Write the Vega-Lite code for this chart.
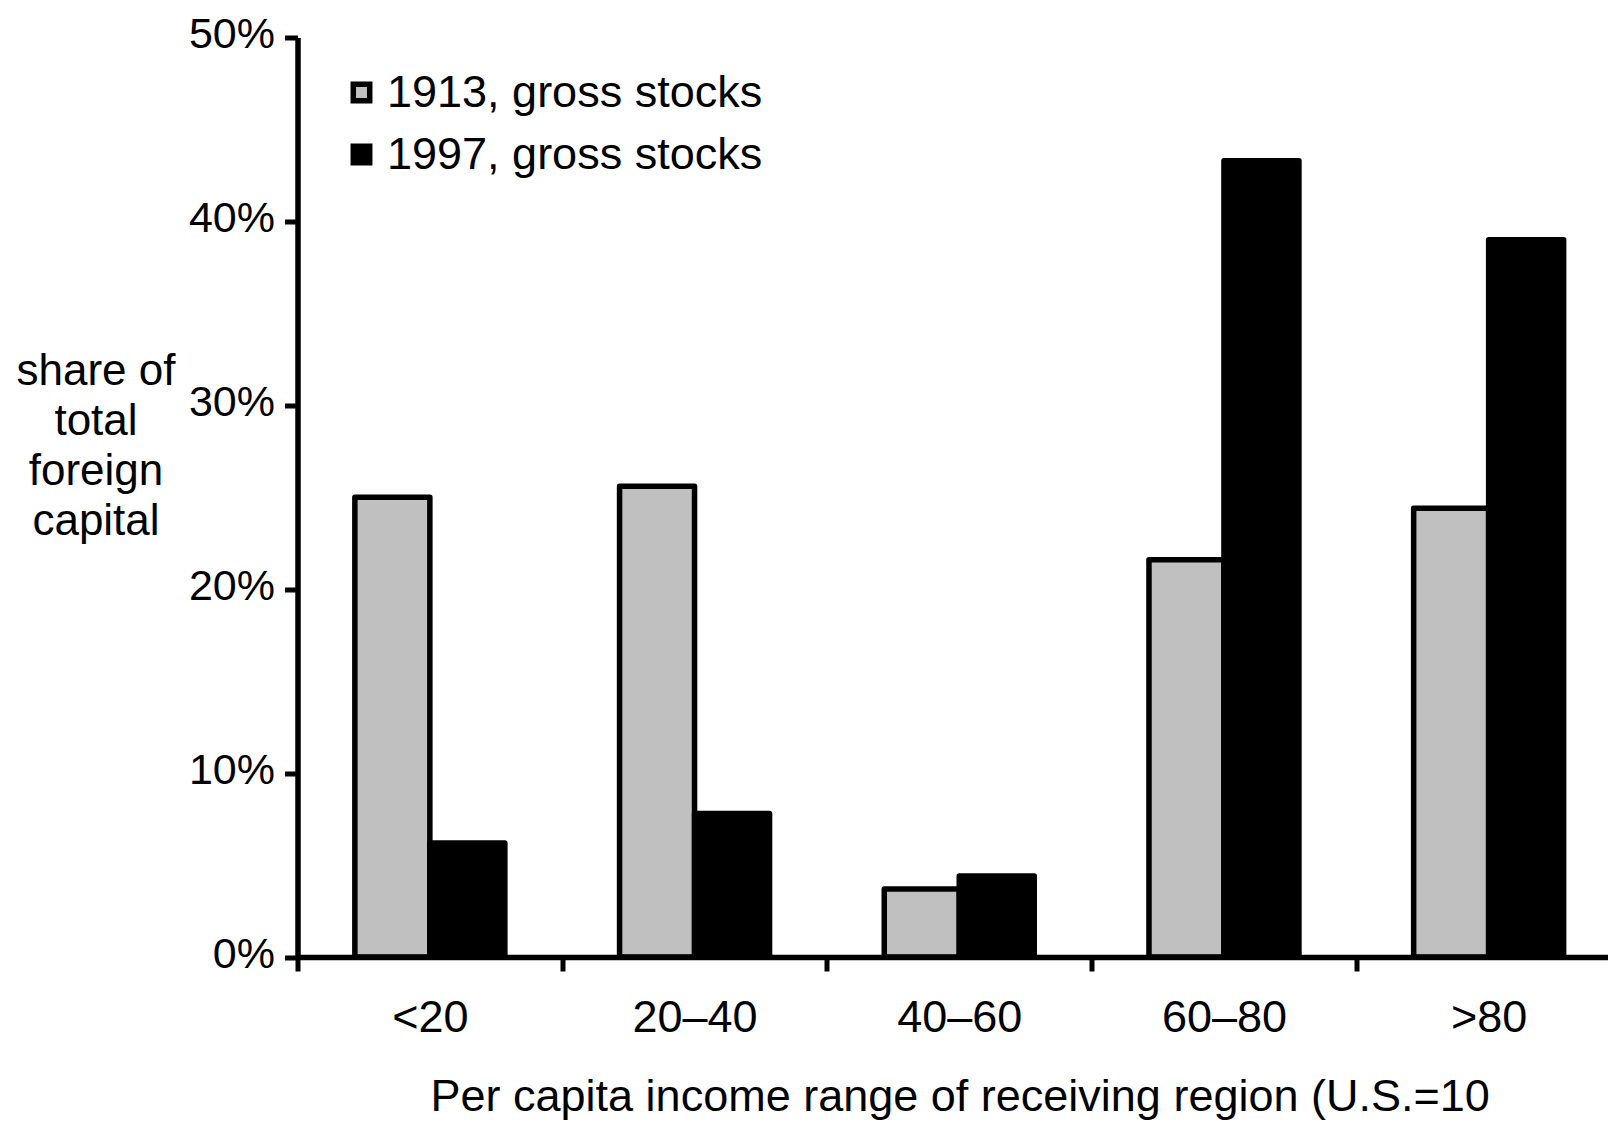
{
  "$schema": "https://vega.github.io/schema/vega-lite/v6.json",
  "width": 1310.5,
  "height": 919.5,
  "autosize": "none",
  "padding": {"left": 297.5, "top": 37.5, "right": 0, "bottom": 164},
  "background": "white",
  "config": {"view": {"stroke": null}, "font": "Liberation Sans"},
  "data": {"values": [
    {"range": "<20", "series": "1913, gross stocks", "share": 0.250},
    {"range": "20–40", "series": "1913, gross stocks", "share": 0.256},
    {"range": "40–60", "series": "1913, gross stocks", "share": 0.037},
    {"range": "60–80", "series": "1913, gross stocks", "share": 0.216},
    {"range": ">80", "series": "1913, gross stocks", "share": 0.244},
    {"range": "<20", "series": "1997, gross stocks", "share": 0.062},
    {"range": "20–40", "series": "1997, gross stocks", "share": 0.078},
    {"range": "40–60", "series": "1997, gross stocks", "share": 0.044},
    {"range": "60–80", "series": "1997, gross stocks", "share": 0.433},
    {"range": ">80", "series": "1997, gross stocks", "share": 0.390}
  ]},
  "mark": {"type": "bar", "stroke": "black", "strokeWidth": 5.5, "strokeJoin": "round"},
  "encoding": {
    "x": {
      "field": "range", "type": "nominal",
      "sort": ["<20", "20–40", "40–60", "60–80", ">80"],
      "scale": {"range": [0, 1323.5], "paddingInner": 0, "paddingOuter": 0},
      "axis": {
        "title": "Per capita income range of receiving region (U.S.=10",
        "labelAngle": 0, "labelFontSize": 45, "labelColor": "black",
        "labelBaseline": "alphabetic", "labelPadding": 60.7,
        "tickSize": 14, "tickWidth": 5, "tickColor": "black", "tickBand": "extent",
        "domainColor": "black", "domainWidth": 5.5,
        "titleFontSize": 45, "titleFontWeight": "normal", "titleColor": "black",
        "titleX": 132.5, "titleY": 153, "titleAlign": "left", "titleBaseline": "alphabetic",
        "titleAnchor": "start", "zindex": 1
      }
    },
    "xOffset": {
      "field": "series", "type": "nominal",
      "sort": ["1913, gross stocks", "1997, gross stocks"],
      "scale": {"paddingInner": 0, "paddingOuter": 0.765}
    },
    "y": {
      "field": "share", "type": "quantitative",
      "scale": {"domain": [0, 0.5], "nice": false},
      "axis": {
        "format": ".0%", "values": [0, 0.1, 0.2, 0.3, 0.4, 0.5], "grid": false,
        "title": ["share of", "total", "foreign", "capital"],
        "labelFontSize": 43, "labelColor": "black", "labelPadding": 10,
        "labelBaseline": "alphabetic", "labelOffset": 10,
        "tickSize": 13, "tickWidth": 5, "tickColor": "black",
        "domainColor": "black", "domainWidth": 5.5,
        "titleAngle": 0, "titleX": -202, "titleY": 346.5, "titleAlign": "center",
        "titleBaseline": "alphabetic", "titleFontSize": 44, "titleLineHeight": 50,
        "titleFontWeight": "normal", "titleColor": "black", "zindex": 1
      }
    },
    "fill": {
      "field": "series", "type": "nominal",
      "scale": {"domain": ["1913, gross stocks", "1997, gross stocks"], "range": ["#c0c0c0", "#000000"]},
      "legend": {
        "orient": "none", "legendX": 41.5, "legendY": 32.5, "title": null,
        "symbolType": "square", "symbolSize": 270, "symbolStrokeWidth": 5.5,
        "symbolStrokeColor": "black", "labelFontSize": 45, "labelColor": "black",
        "labelLimit": 0, "labelOffset": 3, "rowPadding": 16, "padding": 0
      }
    }
  }
}
